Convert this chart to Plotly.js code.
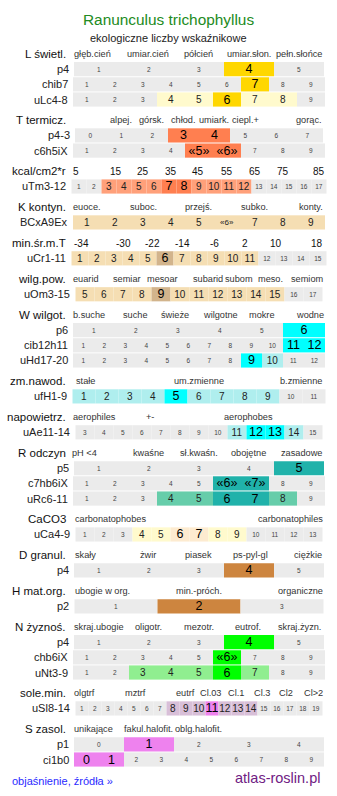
<!DOCTYPE html>
<html><head><meta charset="utf-8">
<script src="https://cdn.plot.ly/plotly-3.0.1.min.js"></script>
<style>html,body{margin:0;padding:0;background:#fff;overflow:hidden}#chart{width:337px;height:796px}</style>
</head><body><div id="chart"></div>
<script>
// ---------- data ----------
const chartTitle = "Ranunculus trichophyllus";
const chartSubtitle = "ekologiczne liczby wskaźnikowe";
const footerLeft = "objaśnienie, źródła »";
const footerRight = "atlas-roslin.pl";

const sectionNames = ["L świetl.", "T termicz.", "kcal/cm2*r", "K kontyn.", "min.śr.m.T", "wilg.pow.",
  "W wilgot.", "zm.nawod.", "napowietrz.", "R odczyn", "CaCO3", "D granul.", "H mat.org.",
  "N żyznoś.", "sole.min.", "S zasol."];

const sectionScaleLabels = [
  ["głęb.cień", "umiar.cień", "półcień", "umiar.słon.", "pełn.słońce"],
  ["alpej.", "górsk.", "chłod.", "umiark.", "ciepl.+", "gorąc."],
  ["5", "15", "25", "35", "45", "55", "65", "75", "85"],
  ["euoce.", "suboc.", "przejś.", "subko.", "konty."],
  ["-34", "-30", "-22", "-14", "-6", "2", "10", "18"],
  ["euarid", "semiar", "mesoar", "subarid", "subom", "meso.", "semiom"],
  ["b.suche", "suche", "świeże", "wilgotne", "mokre", "wodne"],
  ["stałe", "um.zmienne", "b.zmienne"],
  ["aerophiles", "+-", "aerophobes"],
  ["pH <4", "kwaśne", "sł.kwaśn.", "obojętne", "zasadowe"],
  ["carbonatophobes", "carbonatophiles"],
  ["skały", "żwir", "piasek", "ps-pyl-gl", "ciężkie"],
  ["ubogie w org.", "min.-próch.", "organiczne"],
  ["skraj.ubogie", "oligotr.", "mezotr.", "eutrof.", "skraj.żyzn."],
  ["olgtrf", "mztrf", "eutrf", "Cl.03", "Cl.1", "Cl.3", "Cl2", "Cl>2"],
  ["unikające", "fakul.halofit.", "oblg.halofit."]
];

const rowSection = [0,0,0, 1,1, 2, 3, 4, 5, 6,6,6, 7, 8, 9,9,9, 10, 11, 12, 13,13,13, 14, 15,15];
const rowNames = ["p4", "chib7", "uLc4-8", "p4-3", "c6h5iX", "uTm3-12", "BCxA9Ex", "uCr1-11", "uOm3-15",
  "p6", "cib12h11", "uHd17-20", "ufH1-9", "uAe11-14", "p5", "c7hb6iX", "uRc6-11", "uCa4-9",
  "p4", "p2", "p4", "chb6iX", "uNt3-9", "uSl8-14", "p1", "ci1b0"];

const rowCells = [
  ["1","2","3","4","5"],
  ["1","2","3","4","5","6","7","8","9"],
  ["1","2","3","4","5","6","7","8","9"],
  ["0","1","2","3","4","5","6","7"],
  ["1","2","3","4","«5»","«6»","7","8","9"],
  ["1","2","3","4","5","6","7","8","9","10","11","12","13","14","15","16","17"],
  ["1","2","3","4","5","«6»","7","8","9"],
  ["1","2","3","4","5","6","7","8","9","10","11","12","13","14","15"],
  ["5","6","7","8","9","10","11","12","13","14","15","16","17"],
  ["1","2","3","4","5","6"],
  ["1","2","3","4","5","6","7","8","9","10","11","12"],
  ["1","2","3","4","5","6","7","8","9","10","11","12"],
  ["1","2","3","4","5","6","7","8","9","10","11"],
  ["3","4","5","6","7","8","9","10","11","12","13","14","15"],
  ["1","2","3","4","5"],
  ["1","2","3","4","5","«6»","«7»","8","9"],
  ["1","2","3","4","5","6","7","8","9"],
  ["1","2","3","4","5","6","7","8","9","10","11","12","13"],
  ["1","2","3","4","5"],
  ["1","2","3"],
  ["1","2","3","4","5"],
  ["1","2","3","4","5","«6»","7","8","9"],
  ["1","2","3","4","5","6","7","8","9"],
  ["1","2","3","4","5","6","7","8","9","10","11","12","13","14","15","16","17","18","19"],
  ["0","1","2","3","4"],
  ["0","1","2","3","4","5","6","7","8","9"]
];

// 0 = outside range, 1 = within range, 2 = dominant value, 3 = within range (minor mark)
const rowLevels = [
  [0,0,0,2,0],
  [0,0,0,0,0,0,2,0,0],
  [0,0,0,1,1,2,1,1,0],
  [0,0,0,2,2,0,0,0],
  [0,0,0,0,2,2,0,0,0],
  [0,0,1,1,1,1,2,2,1,1,1,1,0,0,0,0,0],
  [1,1,1,1,1,3,1,1,1],
  [1,1,1,1,1,2,1,1,1,1,1,0,0,0,0],
  [1,1,1,1,2,1,1,1,1,1,1,0,0],
  [0,0,0,0,0,2],
  [0,0,0,0,0,0,0,0,0,0,2,2],
  [0,0,0,0,0,0,0,0,2,1,0,0],
  [1,1,1,1,2,1,1,1,1,0,0],
  [0,0,0,0,0,0,0,0,1,2,2,1,0],
  [0,0,0,0,2],
  [0,0,0,0,0,2,2,0,0],
  [0,0,0,1,1,2,2,1,0],
  [0,0,0,1,1,2,2,1,1,0,0,0,0],
  [0,0,0,2,0],
  [0,2,0],
  [0,0,0,2,0],
  [0,0,0,0,0,2,0,0,0],
  [0,0,1,1,1,2,1,0,0],
  [0,0,0,0,0,0,0,1,1,1,2,1,1,1,0,0,0,0,0],
  [0,2,0,0,0],
  [2,2,0,0,0,0,0,0,0,0]
];

// ---------- styles / layout ----------
const strongColors = ["#ffd700","#ff7f50","#ff7f50","#d2b48c","#d2b48c","#d2b48c","#00ffff","#00ffff","#00ffff",
  "#20b2aa","#fdebd0","#cd853f","#cd853f","#00ff00","#ee82ee","#ee82ee"];
const lightColors = ["#fffacd","#ffa07a","#ffa07a","#f5deb3","#f5deb3","#f5deb3","#afeeee","#afeeee","#afeeee",
  "#66cdaa","#fffacd","#f5deb3","#f5deb3","#90ee90","#d8bfd8","#d8bfd8"];
const scaleLabelX = [
  [92.5,148.3,198.7,249.2,299.2],
  [120.5,151.7,183,214,245.8,308.8],
  [75.7,115.5,142.8,170.8,198.3,227,255,283,318.7],
  [87,143,198.3,254.5,310.5],
  [81,123.8,152.8,182.5,214.7,245,276,316.7],
  [85.5,127,162,208,238.7,270.8,307.2],
  [89.3,135.8,175,220.3,261.8,310.3],
  [85,199,301.3],
  [94.5,149.5,248.3],
  [84,148.8,198.8,248.2,301.7],
  [110,290.5],
  [85.3,148,198.3,250,308],
  [102.5,199,300.2],
  [99,148.3,198.8,248.3,299.3],
  [84.5,135.8,185.8,210.8,236.3,261.7,285.8,313.3],
  [93.3,148.3,198.3]
];
const FONT = "Liberation Sans, Arial, sans-serif";
const GREY = "#ebebeb";
const W = 337, H = 796;
const BAR_CENTER = 199;
const ROW_H = 14.2;
const FIRST_ROW_Y = 69.2, ROW_STEP = 15.15, SECTION_STEP = 35.92, HEADER_OFFSET = 15.1;

// compute row y positions
const rowY = [];
let y = FIRST_ROW_Y;
rowSection.forEach((s, r) => {
  if (r > 0) y += (rowSection[r - 1] === s) ? ROW_STEP : SECTION_STEP;
  rowY.push(y);
});
const sectionY = sectionNames.map((_, s) => rowY[rowSection.indexOf(s)] - HEADER_OFFSET);

const traces = [];
const annotations = [];
const sizeByLevel = [6.5, 10, 12.5, 8];
const colorByLevel = ["#444", "#222", "#000", "#222"];

rowNames.forEach((name, r) => {
  const cells = rowCells[r];
  const n = cells.length;
  const cw = Math.round(250 / n);
  const x0 = BAR_CENTER - cw * n / 2;
  const s = rowSection[r];
  const bases = cells.map((_, i) => x0 + i * cw);
  traces.push({
    type: "bar", orientation: "h",
    y: cells.map(() => rowY[r]),
    x: cells.map(() => cw),
    base: bases,
    width: ROW_H,
    marker: {color: rowLevels[r].map(l => l === 0 ? GREY : (l === 2 ? strongColors[s] : lightColors[s])), line: {width: 0}},
    text: cells,
    textposition: "inside", insidetextanchor: "middle", textangle: 0, constraintext: "none",
    textfont: {family: FONT, size: rowLevels[r].map(l => sizeByLevel[l]), color: rowLevels[r].map(l => colorByLevel[l])},
    hoverinfo: "skip", showlegend: false
  });
  annotations.push({x: x0 - 3.5, y: rowY[r], xref: "x", yref: "y", xanchor: "right", yanchor: "middle",
    text: name, showarrow: false, font: {family: FONT, size: 11, color: "#222"}});
});

sectionNames.forEach((nm, s) => {
  annotations.push({x: 68, y: sectionY[s], xref: "x", yref: "y", xanchor: "right", yanchor: "middle",
    text: nm, showarrow: false, font: {family: FONT, size: 11.5, color: "#111"}});
  const numeric = (s === 2 || s === 4);
  sectionScaleLabels[s].forEach((lab, i) => {
    annotations.push({x: scaleLabelX[s][i], y: sectionY[s], xref: "x", yref: "y", xanchor: "center", yanchor: "middle",
      text: lab, showarrow: false, font: {family: FONT, size: numeric ? 10 : 9.2, color: numeric ? "#111" : "#333"}});
  });
});

annotations.push({x: W / 2, y: 19.3, xref: "x", yref: "y", xanchor: "center", yanchor: "middle", text: chartTitle,
  showarrow: false, font: {family: FONT, size: 15.4, color: "#228b22"}});
annotations.push({x: W / 2, y: 38.3, xref: "x", yref: "y", xanchor: "center", yanchor: "middle", text: chartSubtitle,
  showarrow: false, font: {family: FONT, size: 11, color: "#222"}});
annotations.push({x: 10, y: 781, xref: "x", yref: "y", xanchor: "left", yanchor: "middle", text: footerLeft,
  showarrow: false, font: {family: FONT, size: 11, color: "#2a2aff"}});
annotations.push({x: 322, y: 778.3, xref: "x", yref: "y", xanchor: "right", yanchor: "middle", text: footerRight,
  showarrow: false, font: {family: FONT, size: 14.5, color: "#702083"}});

const layout = {
  width: W, height: H,
  margin: {l: 0, r: 0, t: 0, b: 0, pad: 0},
  paper_bgcolor: "#fff", plot_bgcolor: "#fff",
  barmode: "overlay",
  xaxis: {range: [0, W], visible: false, fixedrange: true},
  yaxis: {range: [H, 0], visible: false, fixedrange: true},
  annotations: annotations,
  showlegend: false
};
Plotly.newPlot("chart", traces, layout, {staticPlot: true, displayModeBar: false});
</script>
</body></html>
